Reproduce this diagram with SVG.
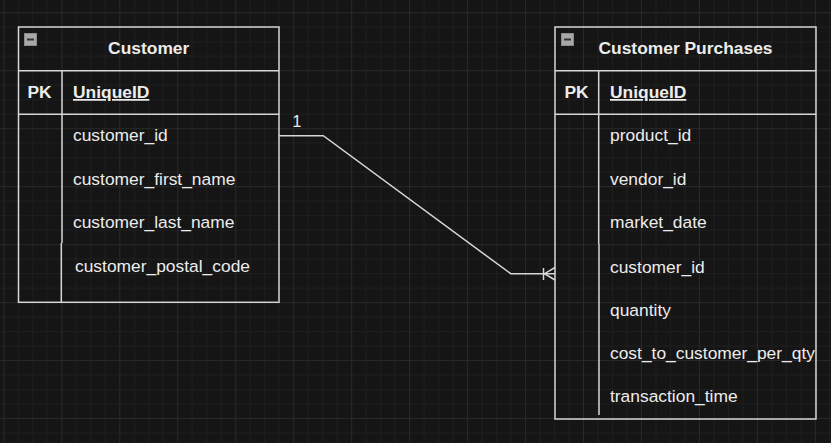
<svg xmlns="http://www.w3.org/2000/svg" width="831" height="443" viewBox="0 0 831 443">
<style>
.bd{fill:none;stroke:#d6d6d6;stroke-width:1.5}
.ln{stroke:#d6d6d6;stroke-width:1.5;fill:none}
.t{font-family:"Liberation Sans",Arial,sans-serif;font-size:17.4px;fill:#ececec}
.b{font-weight:bold}
.u{text-decoration:underline}
.ic{fill:#a8a8a8;stroke:#8a8a8a;stroke-width:1}
.icl{stroke:#333333;stroke-width:2}
</style>
<defs>
<pattern id="grid" patternUnits="userSpaceOnUse" x="3.4" y="12.3" width="57.96" height="57.96">
<rect width="57.96" height="57.96" fill="#151515"/>
<rect x="14.49" y="0" width="1" height="57.96" fill="#1e1e1e"/>
<rect x="28.98" y="0" width="1" height="57.96" fill="#1e1e1e"/>
<rect x="43.47" y="0" width="1" height="57.96" fill="#1e1e1e"/>
<rect x="0" y="14.49" width="57.96" height="1" fill="#1e1e1e"/>
<rect x="0" y="28.98" width="57.96" height="1" fill="#1e1e1e"/>
<rect x="0" y="43.47" width="57.96" height="1" fill="#1e1e1e"/>
<rect x="0" y="0" width="1" height="57.96" fill="#292929"/>
<rect x="0" y="0" width="57.96" height="1" fill="#292929"/>
</pattern>
</defs>
<rect width="831" height="443" fill="url(#grid)"/>

<g id="customer">
<rect class="bd" x="18.5" y="27" width="260.5" height="275.3"/>
<line class="ln" x1="18.5" y1="70.7" x2="279" y2="70.7"/>
<line class="ln" x1="18.5" y1="114.3" x2="279" y2="114.3"/>
<line class="ln" x1="62" y1="70.7" x2="62" y2="243"/>
<line class="ln" x1="61.3" y1="243" x2="61.3" y2="302.3"/>
<rect class="ic" x="24.5" y="33.5" width="12" height="12"/>
<line class="icl" x1="27" y1="39.5" x2="34" y2="39.5"/>
<text class="t b" x="148.7" y="54.3" text-anchor="middle">Customer</text>
<text class="t b" x="39.5" y="98" text-anchor="middle">PK</text>
<text class="t b u" x="73" y="98">UniqueID</text>
<text class="t" x="73" y="141.3">customer_id</text>
<text class="t" x="73" y="185.3">customer_first_name</text>
<text class="t" x="73" y="227.8">customer_last_name</text>
<text class="t" x="75" y="272.3">customer_postal_code</text>
</g>

<g id="customer_purchases">
<rect class="bd" x="555" y="27" width="261" height="392"/>
<line class="ln" x1="555" y1="70.7" x2="816" y2="70.7"/>
<line class="ln" x1="555" y1="114.3" x2="816" y2="114.3"/>
<line class="ln" x1="598.7" y1="70.7" x2="598.7" y2="244"/>
<line class="ln" x1="599" y1="244" x2="599" y2="415"/>
<rect class="ic" x="561.5" y="33.5" width="12" height="12"/>
<line class="icl" x1="564" y1="39.5" x2="571" y2="39.5"/>
<text class="t b" x="685.5" y="54.3" text-anchor="middle">Customer Purchases</text>
<text class="t b" x="576.5" y="98" text-anchor="middle">PK</text>
<text class="t b u" x="610" y="98">UniqueID</text>
<text class="t" x="610" y="141.3">product_id</text>
<text class="t" x="610" y="185.3">vendor_id</text>
<text class="t" x="610" y="228.3">market_date</text>
<text class="t" x="610" y="273.3">customer_id</text>
<text class="t" x="610" y="315.8">quantity</text>
<text class="t" x="610" y="359.3">cost_to_customer_per_qty</text>
<text class="t" x="610" y="402.3">transaction_time</text>
</g>

<g id="connectors">
<polyline class="ln" points="279,135.7 323.3,135.7 510.7,273.7 555,273.7"/>
<line class="ln" x1="543.5" y1="268" x2="543.5" y2="280"/>
<polyline class="ln" points="555,267.5 544.5,273.7 555,280"/>
<text class="t" x="297" y="127.3" text-anchor="middle" style="font-size:15.9px">1</text>
</g>
</svg>
